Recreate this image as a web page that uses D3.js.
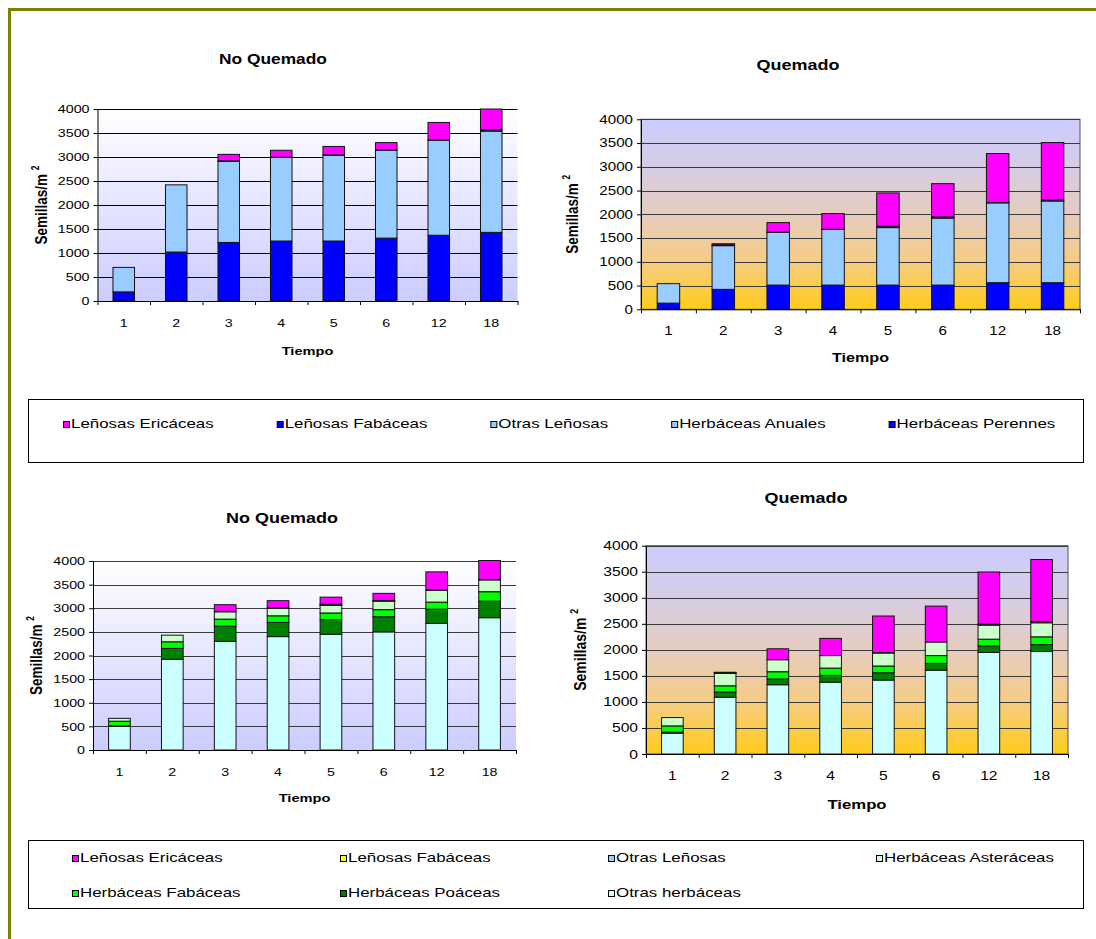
<!DOCTYPE html>
<html>
<head>
<meta charset="utf-8">
<script src="https://cdn.jsdelivr.net/npm/d3@7"></script>
<style>
  body { margin: 0; background: #fff; }
  svg { display: block; }
  text { font-family: "Liberation Sans", Arial, sans-serif; fill: #000; }
</style>
</head>
<body>
<svg id="chart" width="1096" height="939"></svg>
<script>
// ---------- data ----------
const tiempos = ["1", "2", "3", "4", "5", "6", "12", "18"];
const yTicks = [0, 500, 1000, 1500, 2000, 2500, 3000, 3500, 4000];

// Functional groups (stack order bottom -> top)
const gruposFuncionales = ["Herbáceas Perennes", "Herbáceas Anuales", "Otras Leñosas", "Leñosas Fabáceas", "Leñosas Ericáceas"];
const coloresFuncionales = ["#0000FF", "#99CCFF", "#99CCFF", "#0000FF", "#FF00FF"];

const nqPerennes      = [190, 1020, 1220, 1250, 1250, 1310, 1370, 1430];
const nqAnuales       = [510, 1400, 1690, 1740, 1790, 1830, 1980, 2110];
const nqOtrasLenosas  = [0, 0, 0, 0, 0, 0, 0, 0];
const nqLenFabaceas   = [0, 0, 10, 5, 5, 10, 5, 25];
const nqEricaceas     = [0, 0, 135, 145, 175, 150, 365, 435];

const qPerennes       = [130, 420, 510, 510, 510, 510, 560, 560];
const qAnuales        = [410, 920, 1110, 1170, 1210, 1410, 1680, 1720];
const qOtrasLenosas   = [0, 0, 0, 0, 0, 0, 0, 0];
const qLenFabaceas    = [0, 15, 5, 5, 30, 25, 10, 25];
const qEricaceas      = [0, 25, 200, 330, 700, 700, 1030, 1205];

// Taxonomic groups (stack order bottom -> top)
const gruposTaxonomicos = ["Otras herbáceas", "Herbáceas Poáceas", "Herbáceas Fabáceas", "Herbáceas Asteráceas", "Otras Leñosas", "Leñosas Fabáceas", "Leñosas Ericáceas"];
const coloresTaxonomicos = ["#CCFFFF", "#008000", "#00FF00", "#CCFFCC", "#99CCFF", "#FFFF00", "#FF00FF"];

const nqOtrasHerbaceas = [500, 1920, 2300, 2400, 2450, 2500, 2680, 2800];
const nqPoaceas        = [10, 230, 320, 300, 310, 320, 300, 350];
const nqHerbFabaceas   = [100, 140, 150, 140, 140, 150, 150, 200];
const nqAsteraceas     = [60, 140, 155, 160, 160, 180, 250, 250];
const nqOtrasLen2      = [0, 0, 10, 10, 20, 10, 10, 10];
const nqLenFab2        = [0, 0, 0, 0, 5, 5, 0, 0];
const nqEricaceas2     = [0, 0, 140, 150, 150, 150, 380, 400];

const qOtrasHerbaceas  = [400, 1090, 1330, 1380, 1420, 1610, 1950, 1970];
const qPoaceas         = [20, 100, 110, 130, 140, 130, 125, 130];
const qHerbFabaceas    = [120, 120, 140, 140, 130, 150, 130, 150];
const qAsteraceas      = [160, 240, 230, 240, 250, 260, 270, 270];
const qOtrasLen2       = [0, 5, 0, 0, 5, 0, 10, 10];
const qLenFab2         = [0, 5, 0, 0, 5, 0, 10, 15];
const qEricaceas2      = [0, 10, 210, 330, 700, 690, 1000, 1190];

// ---------- drawing ----------
const SX = 1.24;   // horizontal stretch of the chart lettering
const svg = d3.select("#chart");
const defs = svg.append("defs");

const gradLav = defs.append("linearGradient").attr("id", "gradLav")
  .attr("x1", 0).attr("y1", 0).attr("x2", 0).attr("y2", 1);
gradLav.append("stop").attr("offset", "0%").attr("stop-color", "#FFFFFF");
gradLav.append("stop").attr("offset", "100%").attr("stop-color", "#CCCCFF");

const gradSun = defs.append("linearGradient").attr("id", "gradSun")
  .attr("x1", 0).attr("y1", 0).attr("x2", 0).attr("y2", 1);
[["0%", "#CCCCFF"], ["25%", "#D6CCE4"], ["50%", "#E6CCC0"], ["75%", "#F6CC84"], ["100%", "#FFCC1A"]]
  .forEach(([o, c]) => gradSun.append("stop").attr("offset", o).attr("stop-color", c));

// page frame
svg.append("rect").attr("x", 9.5).attr("y", 9.5).attr("width", 2000).attr("height", 2000)
  .attr("fill", "none").attr("stroke", "#808000").attr("stroke-width", 3);

function stretch(sel, sx) {
  sel.each(function () {
    const t = d3.select(this);
    const x = +t.attr("x") || 0;
    t.attr("x", x / sx).attr("transform", `scale(${sx},1)`);
  });
}

function label(parent, x, y, txt, o) {
  const g = parent.append("g")
    .attr("transform", `translate(${x},${y}) scale(${o.sx || SX},1)` + (o.rotate ? ` rotate(${o.rotate})` : ""));
  return g.append("text")
    .attr("text-anchor", o.anchor || "middle")
    .attr("font-size", o.size)
    .attr("font-weight", o.weight || "normal")
    .text(txt);
}

function drawPanel(p) {
  const g = svg.append("g");
  const n = tiempos.length;
  const x = d3.scaleBand().domain(tiempos).range([p.x0, p.x1]).paddingInner(0.59).paddingOuter(0.295);
  const xb = d3.scaleLinear().domain([0, n]).range([p.x0, p.x1]);
  const y = d3.scaleLinear().domain([0, 4000]).range([p.yBot, p.yTop]);

  g.append("rect").attr("x", p.x0).attr("y", p.yTop)
    .attr("width", p.x1 - p.x0).attr("height", p.yBot - p.yTop)
    .attr("fill", `url(#${p.grad})`)
    .attr("stroke", p.border || "none");

  g.append("g").selectAll("line").data(yTicks.filter(v => v > 0)).join("line")
    .attr("x1", p.x0).attr("x2", p.x1)
    .attr("y1", d => Math.round(y(d)) + 0.5).attr("y2", d => Math.round(y(d)) + 0.5)
    .attr("stroke", p.grid).attr("stroke-width", 1);

  const keys = p.series.map(s => s.name + "_" + s.idx);
  const rows = tiempos.map((t, i) => {
    const r = { t };
    p.series.forEach((s, k) => r[keys[k]] = s.values[i]);
    return r;
  });
  const layers = d3.stack().keys(keys)(rows);
  layers.forEach((layer, k) => {
    g.append("g").selectAll("rect").data(layer.filter(d => d[1] - d[0] > 0)).join("rect")
      .attr("x", d => x(d.data.t))
      .attr("width", x.bandwidth())
      .attr("y", d => y(d[1]))
      .attr("height", d => y(d[0]) - y(d[1]))
      .attr("fill", p.series[k].color)
      .attr("stroke", "#111")
      .attr("stroke-width", 1);
  });

  // value axis
  const ya = g.append("g").attr("transform", `translate(${p.x0},0)`)
    .call(d3.axisLeft(y).tickValues(yTicks).tickFormat(d3.format("d"))
      .tickSize(4).tickPadding(4).tickSizeOuter(0));
  ya.attr("font-family", null).attr("font-size", p.tickFont);
  ya.selectAll("line,path").attr("stroke", "#000");
  ya.selectAll("text").attr("fill", "#000").call(stretch, SX);

  // category axis: boundary ticks
  const xa = g.append("g").attr("transform", `translate(0,${p.yBot})`)
    .call(d3.axisBottom(xb).tickValues(d3.range(n + 1)).tickFormat("").tickSize(4).tickSizeOuter(0));
  xa.selectAll("line,path").attr("stroke", "#000");

  // category labels
  const xl = g.append("g").attr("transform", `translate(0,${p.yBot})`)
    .call(d3.axisBottom(x).tickSize(0));
  xl.attr("font-family", null).attr("font-size", p.tickFont);
  xl.select(".domain").remove();
  xl.selectAll("text").attr("y", p.xLabY - p.yBot).attr("dy", 0).attr("fill", "#000").call(stretch, SX);

  // titles
  label(g, p.titleX, p.titleY, p.title, { size: p.titleFont, weight: "bold" });
  label(g, (p.x0 + p.x1) / 2, p.axisTitleY, "Tiempo", { size: p.axisTitleFont, weight: "bold" });
  const yl = label(g, p.yLabX, (p.yTop + p.yBot) / 2, "", { size: p.yLabFont, weight: "bold", rotate: -90 });
  yl.append("tspan").text("Semillas/m ");
  yl.append("tspan").attr("font-size", p.yLabFont * 0.62).attr("dy", -p.yLabFont * 0.45).text("2");
}

function series(names, colors, arrays) {
  return names.map((nm, i) => ({ name: nm, idx: i, color: colors[i], values: arrays[i] }));
}

drawPanel({
  x0: 97.5, x1: 517.5, yTop: 109, yBot: 301, grad: "gradLav", grid: "#000",
  title: "No Quemado", titleX: 273, titleY: 64, titleFont: 14,
  tickFont: 11.5, xLabY: 327, axisTitleY: 355, axisTitleFont: 11.8,
  yLabX: 46.5, yLabFont: 13.5,
  series: series(gruposFuncionales, coloresFuncionales,
    [nqPerennes, nqAnuales, nqOtrasLenosas, nqLenFabaceas, nqEricaceas])
});

drawPanel({
  x0: 641, x1: 1080, yTop: 119.3, yBot: 309.3, grad: "gradSun", grid: "#3a3a3a", border: "#555",
  title: "Quemado", titleX: 798, titleY: 70, titleFont: 14.5,
  tickFont: 12.2, xLabY: 335, axisTitleY: 362, axisTitleFont: 13,
  yLabX: 578, yLabFont: 13.5,
  series: series(gruposFuncionales, coloresFuncionales,
    [qPerennes, qAnuales, qOtrasLenosas, qLenFabaceas, qEricaceas])
});

drawPanel({
  x0: 93, x1: 516, yTop: 561, yBot: 750, grad: "gradLav", grid: "#3a3a3a",
  title: "No Quemado", titleX: 282, titleY: 523, titleFont: 14.5,
  tickFont: 11.5, xLabY: 776, axisTitleY: 802, axisTitleFont: 11.8,
  yLabX: 41.7, yLabFont: 13.5,
  series: series(gruposTaxonomicos, coloresTaxonomicos,
    [nqOtrasHerbaceas, nqPoaceas, nqHerbFabaceas, nqAsteraceas, nqOtrasLen2, nqLenFab2, nqEricaceas2])
});

drawPanel({
  x0: 646, x1: 1068, yTop: 545.7, yBot: 754, grad: "gradSun", grid: "#3a3a3a", border: "#555",
  title: "Quemado", titleX: 806, titleY: 503, titleFont: 14.5,
  tickFont: 12.6, xLabY: 780, axisTitleY: 809, axisTitleFont: 13.5,
  yLabX: 586, yLabFont: 14,
  series: series(gruposTaxonomicos, coloresTaxonomicos,
    [qOtrasHerbaceas, qPoaceas, qHerbFabaceas, qAsteraceas, qOtrasLen2, qLenFab2, qEricaceas2])
});

// ---------- legends ----------
const LSX = 1.3;
function legendItem(g, x, baseline, name, color) {
  g.append("rect").attr("x", x + 0.5).attr("y", baseline - 6.5).attr("width", 6).attr("height", 6)
    .attr("fill", color).attr("stroke", "#000").attr("stroke-width", 1);
  const t = label(g, x + 8, baseline, name, { size: 13, anchor: "start", sx: LSX });
  return t.node().getComputedTextLength() * LSX;
}

// upper legend: functional groups, listed top of stack first
const legSup = svg.append("g");
legSup.append("rect").attr("x", 28.5).attr("y", 399.5).attr("width", 1055).attr("height", 63)
  .attr("fill", "#fff").attr("stroke", "#000");
{
  let cx = 63;
  gruposFuncionales.map((nm, i) => [nm, coloresFuncionales[i]]).reverse().forEach(([nm, c]) => {
    const w = legendItem(legSup, cx, 428, nm, c);
    cx += 8 + w + 63;
  });
}

// lower legend: taxonomic groups in a 4-column grid
const legInf = svg.append("g");
legInf.append("rect").attr("x", 28.5).attr("y", 840.5).attr("width", 1055).attr("height", 68)
  .attr("fill", "#fff").attr("stroke", "#000");
gruposTaxonomicos.map((nm, i) => [nm, coloresTaxonomicos[i]]).reverse().forEach(([nm, c], i) => {
  const col = i % 4, row = Math.floor(i / 4);
  legendItem(legInf, 72 + col * 268, 862 + row * 35, nm, c);
});
</script>
</body>
</html>
